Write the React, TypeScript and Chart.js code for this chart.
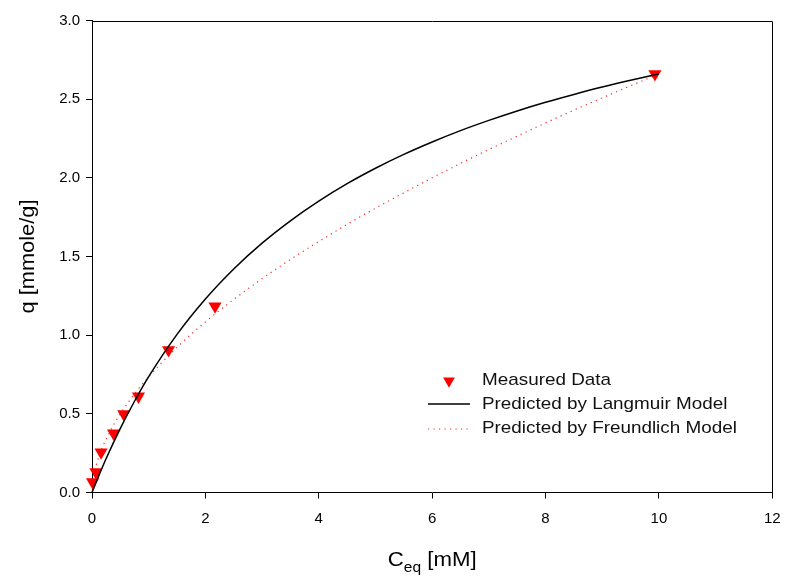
import React, { useEffect, useRef } from "react";
import { Chart, registerables } from "chart.js";

Chart.register(...registerables);

// Measured data (C_eq [mM], q [mmole/g])
const measuredC = [0.01, 0.07, 0.16, 0.38, 0.56, 0.82, 1.35, 2.17, 9.93];
const measuredQ = [0.066, 0.13, 0.256, 0.377, 0.499, 0.611, 0.906, 1.184, 2.66];

// Langmuir model curve
const langmuirC = [0, 0.05, 0.1, 0.25, 0.5, 0.75, 1, 1.5, 2, 2.5, 3, 3.5, 4, 4.5, 5, 5.5, 6, 6.5, 7, 7.5, 8, 8.5, 9, 9.5, 10];
const langmuirQ = [0, 0.045, 0.089, 0.216, 0.408, 0.58, 0.736, 1.005, 1.23, 1.421, 1.585, 1.727, 1.852, 1.963, 2.061, 2.149, 2.228, 2.3, 2.365, 2.425, 2.48, 2.53, 2.577, 2.62, 2.66];

// Freundlich model curve
const freundlichC = [0.005, 0.02, 0.05, 0.1, 0.2, 0.35, 0.5, 0.75, 1, 1.5, 2, 2.5, 3, 3.5, 4, 4.5, 5, 5.5, 6, 6.5, 7, 7.5, 8, 8.5, 9, 9.5, 10];
const freundlichQ = [0.038, 0.083, 0.138, 0.204, 0.3, 0.41, 0.5, 0.627, 0.736, 0.923, 1.084, 1.227, 1.359, 1.481, 1.595, 1.704, 1.807, 1.905, 2.0, 2.092, 2.18, 2.265, 2.349, 2.43, 2.508, 2.585, 2.66];

const legendLabels = ["Measured Data", "Predicted by Langmuir Model", "Predicted by Freundlich Model"];
const xTitleMain = "C";
const xTitleSub = "eq";
const xTitleRest = " [mM]";
const yTitle = "q [mmole/g]";

const FONT = "'Liberation Sans', Arial, sans-serif";

function toPts(xs: number[], ys: number[]) {
  return xs.map((x, i) => ({ x, y: ys[i] }));
}

const decorPlugin = {
  id: "decor",
  afterDraw(chart: any) {
    const { ctx, chartArea } = chart;
    const { left, right, top, bottom } = chartArea;
    ctx.save();
    // frame top & right
    ctx.strokeStyle = "#000";
    ctx.lineWidth = 1;
    ctx.beginPath();
    ctx.moveTo(Math.round(left) + 0.5, Math.round(top) + 0.5);
    ctx.lineTo(Math.round(right) + 0.5, Math.round(top) + 0.5);
    ctx.lineTo(Math.round(right) + 0.5, Math.round(bottom) + 0.5);
    ctx.stroke();

    ctx.fillStyle = "#000";
    const SX = 1.11;
    // x title with subscript
    const mainFont = `20px ${FONT}`;
    const subFont = `14px ${FONT}`;
    ctx.font = mainFont;
    const wC = ctx.measureText(xTitleMain).width;
    const wR = ctx.measureText(xTitleRest).width;
    ctx.font = subFont;
    const wS = ctx.measureText(xTitleSub).width;
    const total = (wC + wS + wR) * SX;
    const cx = (left + right) / 2;
    const base = 566;
    ctx.save();
    ctx.translate(cx - total / 2, base);
    ctx.scale(SX, 1);
    ctx.textBaseline = "alphabetic";
    ctx.textAlign = "left";
    let x0 = 0;
    ctx.font = mainFont;
    ctx.fillText(xTitleMain, x0, 0);
    x0 += wC;
    ctx.font = subFont;
    ctx.fillText(xTitleSub, x0, 6);
    x0 += wS;
    ctx.font = mainFont;
    ctx.fillText(xTitleRest, x0, 0);
    ctx.restore();

    // y title
    ctx.save();
    ctx.translate(28, (top + bottom) / 2);
    ctx.rotate(-Math.PI / 2);
    ctx.scale(1.09, 1);
    ctx.font = mainFont;
    ctx.textAlign = "center";
    ctx.textBaseline = "middle";
    ctx.fillText(yTitle, 0, 0);
    ctx.restore();

    // legend
    const textX = 482;
    const rows = [380.5, 404.5, 428.5];
    rows.forEach((ry, i) => {
      ctx.save();
      ctx.translate(textX, ry);
      ctx.scale(1.11, 1);
      ctx.font = `17px ${FONT}`;
      ctx.textAlign = "left";
      ctx.textBaseline = "middle";
      ctx.fillStyle = "#111";
      ctx.fillText(legendLabels[i], 0, 0);
      ctx.restore();
    });
    // marker
    const mx = 449, my = 381, r = 6.8;
    ctx.fillStyle = "#ff0000";
    ctx.beginPath();
    ctx.moveTo(mx, my + r);
    ctx.lineTo(mx - r * Math.sqrt(3) / 2, my - r / 2);
    ctx.lineTo(mx + r * Math.sqrt(3) / 2, my - r / 2);
    ctx.closePath();
    ctx.fill();
    // solid line sample
    ctx.strokeStyle = "#000";
    ctx.lineWidth = 1.5;
    ctx.beginPath();
    ctx.moveTo(428, 404);
    ctx.lineTo(470, 404);
    ctx.stroke();
    // dotted sample
    ctx.strokeStyle = "rgba(255,0,0,0.85)";
    ctx.lineWidth = 1.2;
    ctx.setLineDash([1.2, 4.3]);
    ctx.beginPath();
    ctx.moveTo(428, 429);
    ctx.lineTo(470, 429);
    ctx.stroke();
    ctx.setLineDash([]);
    ctx.restore();
  },
};

export default function App() {
  const ref = useRef<HTMLCanvasElement | null>(null);
  useEffect(() => {
    if (!ref.current) return;
    const chart = new Chart(ref.current, {
      type: "scatter",
      data: {
        datasets: [
          {
            label: legendLabels[1],
            data: toPts(langmuirC, langmuirQ),
            showLine: true,
            borderColor: "#000",
            borderWidth: 1.5,
            pointRadius: 0,
            cubicInterpolationMode: "monotone",
            fill: false,
          } as any,
          {
            label: legendLabels[2],
            data: toPts(freundlichC, freundlichQ),
            showLine: true,
            borderColor: "rgba(255,0,0,0.85)",
            borderWidth: 1.2,
            borderDash: [1.2, 4.3],
            pointRadius: 0,
            cubicInterpolationMode: "monotone",
            fill: false,
          } as any,
          {
            label: legendLabels[0],
            data: toPts(measuredC, measuredQ),
            showLine: false,
            pointStyle: "triangle",
            rotation: 180,
            pointRadius: 7.6,
            pointBackgroundColor: "#ff0000",
            pointBorderColor: "#ff0000",
            pointBorderWidth: 0,
          } as any,
        ],
      },
      options: {
        animation: false,
        responsive: false,
        maintainAspectRatio: false,
        clip: false as any,
        layout: { autoPadding: false, padding: { top: 20.5, right: 16.7, left: 0, bottom: 0 } },
        plugins: {
          legend: { display: false },
          tooltip: { enabled: false },
          title: { display: false },
        },
        scales: {
          x: {
            type: "linear",
            min: 0,
            max: 12,
            afterFit(scale: any) {
              scale.height = 85.5;
              scale.paddingRight = 0;
              scale.paddingLeft = 0;
            },
            ticks: {
              stepSize: 2,
              padding: 11,
              color: "#000",
              font: { family: FONT, size: 15 },
              callback: (v: any) => String(v),
            },
            grid: {
              display: true,
              drawOnChartArea: false,
              drawTicks: true,
              tickLength: 6,
              color: "#000",
              lineWidth: 1,
            },
            border: { display: true, color: "#000", width: 1 },
          },
          y: {
            type: "linear",
            min: 0,
            max: 3,
            afterFit(scale: any) {
              scale.width = 92;
            },
            ticks: {
              stepSize: 0.5,
              padding: 6,
              color: "#000",
              font: { family: FONT, size: 15 },
              callback: (v: any) => Number(v).toFixed(1),
            },
            grid: {
              display: true,
              drawOnChartArea: false,
              drawTicks: true,
              tickLength: 6,
              color: "#000",
              lineWidth: 1,
            },
            border: { display: true, color: "#000", width: 1 },
          },
        },
      },
      plugins: [decorPlugin],
    });
    return () => chart.destroy();
  }, []);
  return (
    <div style={{ position: "absolute", left: 0, top: 0, width: 789, height: 578, background: "#fff" }}>
      <canvas ref={ref} width={789} height={578} style={{ display: "block" }} />
    </div>
  );
}
